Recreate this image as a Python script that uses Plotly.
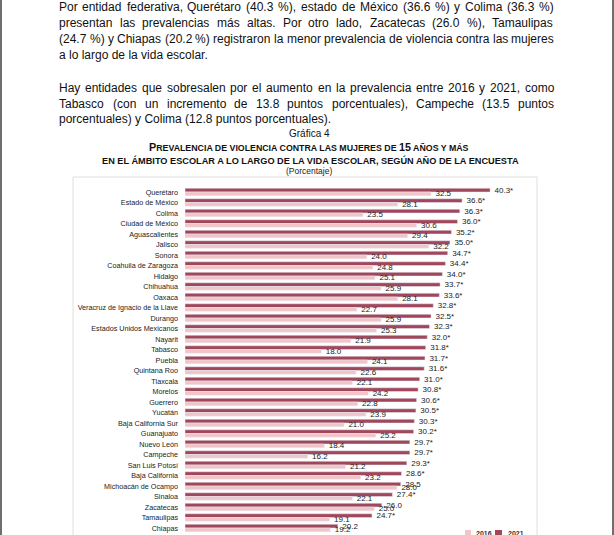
import plotly.graph_objects as go

W, H = 614, 535

states = ["Querétaro", "Estado de México", "Colima", "Ciudad de México", "Aguascalientes",
          "Jalisco", "Sonora", "Coahuila de Zaragoza", "Hidalgo", "Chihuahua", "Oaxaca",
          "Veracruz de Ignacio de la Llave", "Durango", "Estados Unidos Mexicanos", "Nayarit",
          "Tabasco", "Puebla", "Quintana Roo", "Tlaxcala", "Morelos", "Guerrero", "Yucatán",
          "Baja California Sur", "Guanajuato", "Nuevo León", "Campeche", "San Luis Potosí",
          "Baja California", "Michoacán de Ocampo", "Sinaloa", "Zacatecas", "Tamaulipas", "Chiapas"]
v2021 = [40.3, 36.6, 36.3, 36.0, 35.2, 35.0, 34.7, 34.4, 34.0, 33.7, 33.6, 32.8, 32.5, 32.3,
         32.0, 31.8, 31.7, 31.6, 31.0, 30.8, 30.6, 30.5, 30.3, 30.2, 29.7, 29.7, 29.3, 28.6,
         28.5, 27.4, 26.0, 24.7, 20.2]
v2016 = [32.5, 28.1, 23.5, 30.6, 29.4, 32.2, 24.0, 24.8, 25.1, 25.9, 28.1, 22.7, 25.9, 25.3,
         21.9, 18.0, 24.1, 22.6, 22.1, 24.2, 22.8, 23.9, 21.0, 25.2, 18.4, 16.2, 21.2, 23.2,
         28.0, 22.1, 25.0, 19.1, 19.2]
sig2021 = [True] * 28 + [False, True, False, True, False]
years = ["2016", "2021"]

C2021 = "#a0475b"
C2016 = "#f2c3c7"
FONT = "Liberation Sans, Arial, sans-serif"
PAD = "\u00a0\u00a0"

def px(x):
    return x / W

def py(y):
    return 1 - y / H

fig = go.Figure()
fig.add_trace(go.Bar(
    y=states, x=v2021, orientation="h", name=years[1], marker_color=C2021,
    text=[f"{PAD}{v:.1f}*" if s else f"{PAD}{v:.1f}" for v, s in zip(v2021, sig2021)],
    textposition="outside", textangle=0, constraintext="none", cliponaxis=False,
    textfont=dict(size=8, color="#222", family=FONT), showlegend=False))
fig.add_trace(go.Bar(
    y=states, x=v2016, orientation="h", name=years[0], marker_color=C2016,
    text=[f"{PAD}{v:.1f}" for v in v2016],
    textposition="outside", textangle=0, constraintext="none", cliponaxis=False,
    textfont=dict(size=8, color="#222", family=FONT), showlegend=False))

# pixel geometry of the plot
x0_px, x1_px = 185, 537
px_per_unit = 7.57
row0_px, row_px = 192.0, 10.5
top_px, bot_px = 177, 535
y_top = -(row0_px - top_px) / row_px
y_bot = (bot_px - row0_px) / row_px

fig.update_layout(
    width=W, height=H, margin=dict(l=0, r=0, t=0, b=0),
    paper_bgcolor="white", plot_bgcolor="rgba(0,0,0,0)",
    barmode="group", bargap=0.29, bargroupgap=0,
    font=dict(family=FONT, color="#111"),
    xaxis=dict(domain=[px(x0_px), px(x1_px)], range=[0, (x1_px - x0_px) / px_per_unit],
               visible=False, showgrid=False, zeroline=False),
    yaxis=dict(domain=[0, py(top_px)], range=[y_bot, y_top], type="category",
               showgrid=False, zeroline=False, showline=False, ticks="",
               ticklabelstandoff=6, tickfont=dict(size=7.2, color="#222", family=FONT)),
)

shapes = []
# page frame lines
shapes.append(dict(type="line", xref="paper", yref="paper", x0=px(1), x1=px(1), y0=0, y1=1,
                   line=dict(color="#6e6e6e", width=2)))
shapes.append(dict(type="line", xref="paper", yref="paper", x0=px(613), x1=px(613), y0=0, y1=1,
                   line=dict(color="#6e6e6e", width=2)))
# chart box
shapes.append(dict(type="rect", xref="paper", yref="paper", x0=px(73), x1=px(537),
                   y0=py(560), y1=py(top_px), line=dict(color="#dedede", width=1), layer="below"))
# legend swatches
shapes.append(dict(type="rect", xref="paper", yref="paper", x0=px(465), x1=px(471),
                   y0=py(536), y1=py(530), fillcolor=C2016, line=dict(width=0)))
shapes.append(dict(type="rect", xref="paper", yref="paper", x0=px(495), x1=px(502),
                   y0=py(536), y1=py(530), fillcolor=C2021, line=dict(width=0)))
fig.update_layout(shapes=shapes)

ann = []
def text(x, y, s, size, xanchor="left", color="#111", bold=False):
    ann.append(dict(x=px(x), y=py(y), xref="paper", yref="paper", text=f"<b>{s}</b>" if bold else s,
                    showarrow=False, xanchor=xanchor, yanchor="middle",
                    font=dict(size=size, color=color, family=FONT)))

text(474, 533, years[0], 7, bold=True, color="#333")
text(506, 533, years[1], 7, bold=True, color="#333")

# Arial-like glyph widths (per 1000 em) for justifying text
wd = {" ": 278, "f": 278, "i": 222, "j": 222, "l": 222, "m": 833, "r": 333, "t": 278, "w": 722,
      "c": 500, "k": 500, "s": 500, "v": 500, "x": 500, "y": 500, "z": 500,
      ".": 278, ",": 278, "(": 333, ")": 333, "%": 889, "í": 278, "I": 278,
      "Q": 778, "M": 833, "C": 722, "H": 722, "T": 611, "Z": 611, "P": 667}
def wlen(s, size):
    return sum(wd.get(ch, 556) for ch in s) * size / 1000

BODY = 12
LEFT, RIGHT = 57, 552
para = [
    ("Por entidad federativa, Querétaro (40.3 %), estado de México (36.6 %) y Colima (36.3 %)", 7, True),
    ("presentan las prevalencias más altas. Por otro lado, Zacatecas (26.0 %), Tamaulipas", 23, True),
    ("(24.7 %) y Chiapas (20.2 %) registraron la menor prevalencia de violencia contra las mujeres", 39, True),
    ("a lo largo de la vida escolar.", 55, False),
    ("Hay entidades que sobresalen por el aumento en la prevalencia entre 2016 y 2021, como", 88, True),
    ("Tabasco (con un incremento de 13.8 puntos porcentuales), Campeche (13.5 puntos", 104, True),
    ("porcentuales) y Colima (12.8 puntos porcentuales).", 119, False),
]
for line, y, just in para:
    if not just:
        text(LEFT, y, line, BODY)
        continue
    words = line.split(" ")
    widths = [wlen(w, BODY) for w in words]
    gap = (RIGHT - LEFT - sum(widths)) / (len(words) - 1)
    x = LEFT
    for w, ww in zip(words, widths):
        text(x, y, w, BODY)
        x += ww + gap

# title
big, small = 10.8, 8.8
text(309, 133, "Gráfica 4", 10, xanchor="center")
t1 = (f'<span style="font-size:{big}px">P</span>REVALENCIA DE VIOLENCIA CONTRA LAS MUJERES DE '
      f'<span style="font-size:{big}px">15</span> AÑOS Y MÁS')
text(309, 147, t1, small, xanchor="center", bold=True)
text(310, 160, "EN EL ÁMBITO ESCOLAR A LO LARGO DE LA VIDA ESCOLAR, SEGÚN AÑO DE LA ENCUESTA",
     9.2, xanchor="center", bold=True)
text(309, 171, "(Porcentaje)", 8.5, xanchor="center", color="#222")

fig.update_layout(annotations=ann)
fig.write_html("out.html", config={"displayModeBar": False},
               post_script="document.body.style.margin='0';document.body.style.overflow='hidden';")
